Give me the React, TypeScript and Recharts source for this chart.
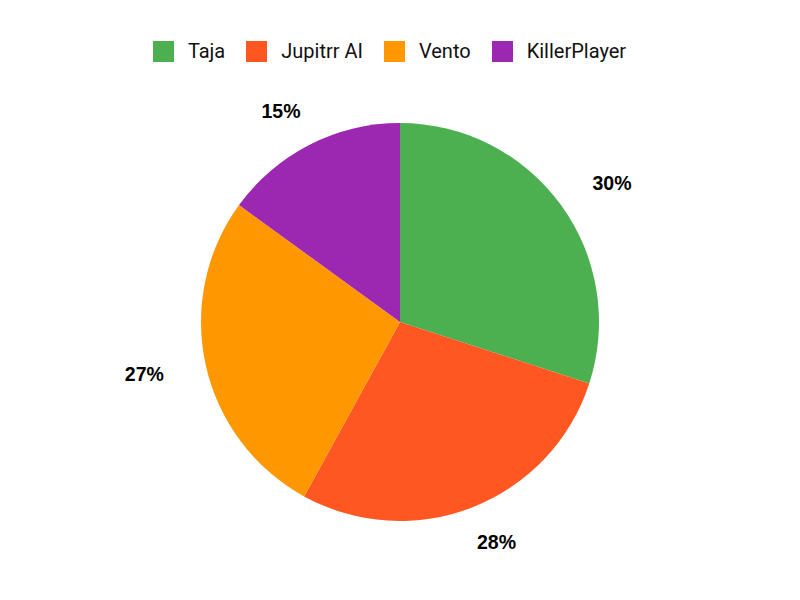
import { PieChart, Pie, Cell } from "recharts";

const names = ["Taja", "Jupitrr AI", "Vento", "KillerPlayer"];
const shares = [30, 28, 27, 15];
const colors = ["#4CAF50", "#FF5722", "#FF9800", "#9C27B0"];

const data = names.map((name, i) => ({ name, value: shares[i] }));

const RADIAN = Math.PI / 180;

function renderLabel(props: any) {
  const { cx, cy, midAngle, outerRadius, value } = props;
  const x = cx + (outerRadius + 63) * Math.cos(-midAngle * RADIAN);
  const y = cy + (outerRadius + 38) * Math.sin(-midAngle * RADIAN);
  return (
    <text
      x={x}
      y={y}
      textAnchor="middle"
      dominantBaseline="central"
      fill="#000"
      style={{ fontFamily: "'Liberation Sans', Arial, sans-serif", fontWeight: 700, fontSize: 19.5 }}
    >
      {value}%
    </text>
  );
}

function LegendRow() {
  return (
    <div
      style={{
        position: "absolute",
        top: 41,
        left: 0,
        width: 800,
        display: "flex",
        justifyContent: "center",
        alignItems: "center",
        fontFamily: "Roboto",
        fontSize: 20,
        lineHeight: "21px",
        color: "#111",
      }}
    >
      {names.map((name, i) => (
        <div key={name} style={{ display: "flex", alignItems: "center", marginRight: 21 }}>
          <span
            style={{ width: 21, height: 21, background: colors[i], display: "inline-block", marginRight: 14 }}
          />
          <span>{name}</span>
        </div>
      ))}
    </div>
  );
}

export default function App() {
  return (
    <div style={{ position: "absolute", left: 0, top: 0, width: 800, height: 600, background: "#fff" }}>
      <PieChart width={800} height={600} margin={{ top: 0, right: 0, bottom: 0, left: 0 }}>
        <Pie
          data={data}
          dataKey="value"
          nameKey="name"
          cx={400}
          cy={322}
          outerRadius={199}
          startAngle={90}
          endAngle={-270}
          stroke="none"
          label={renderLabel}
          labelLine={false}
          isAnimationActive={false}
        >
          {data.map((d, i) => (
            <Cell key={d.name} fill={colors[i]} />
          ))}
        </Pie>
      </PieChart>
      <LegendRow />
    </div>
  );
}
